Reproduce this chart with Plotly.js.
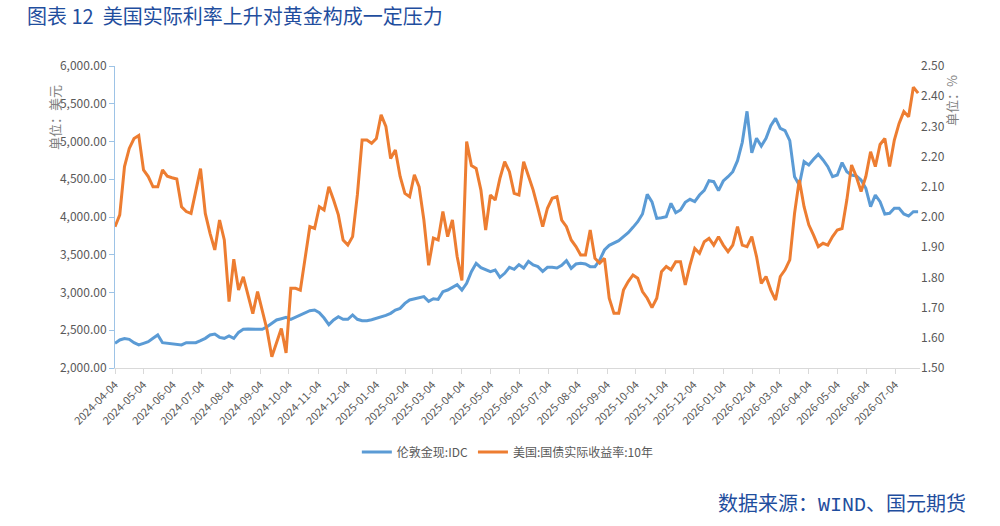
<!DOCTYPE html>
<html>
<head>
<meta charset="utf-8">
<script src="https://cdn.plot.ly/plotly-3.0.1.min.js"></script>
<style>
  html, body { margin: 0; padding: 0; background: #ffffff; }
  #chart { width: 1000px; height: 526px; }
</style>
</head>
<body>
<div id="chart"></div>
<script>
const seriesStart = '2024-04-04';
const stepDays = 5;

// 伦敦金现:IDC (美元)
const goldSpot = [
  2327,2371,2389,2380,2336,2305,2327,2349,2393,2437,
  2335,2327,2318,2313,2305,2335,2335,2335,2362,2393,
  2437,2450,2406,2393,2424,2393,2472,2512,2516,2512,
  2508,2512,2547,2591,2636,2653,2671,2645,2671,2702,
  2728,2759,2768,2733,2662,2574,2636,2680,2645,2645,
  2702,2645,2627,2627,2640,2658,2675,2697,2724,2768,
  2790,2856,2901,2918,2931,2945,2883,2918,2909,3011,
  3033,3073,3104,3033,3121,3276,3386,3329,3307,3276,
  3298,3201,3254,3333,3307,3369,3324,3413,3364,3342,
  3280,3333,3333,3324,3360,3422,3320,3377,3386,3377,
  3342,3342,3430,3563,3625,3655,3686,3739,3792,3863,
  3938,4040,4300,4200,3982,3991,4004,4181,4057,4093,
  4194,4234,4203,4291,4353,4481,4468,4349,4477,4534,
  4600,4746,4989,5400,4850,5042,4940,5042,5210,5307,
  5174,5143,5011,4534,4424,4733,4689,4764,4830,4755,
  4667,4534,4556,4720,4600,4556,4543,4490,4380,4137,
  4291,4203,4040,4049,4115,4115,4040,4013,4071,4071
];

// 美国:国债实际收益率:10年 (%)
const realYield10y = [
  1.968,2.007,2.167,2.227,2.26,2.27,2.156,2.134,2.10,2.10,
  2.156,2.135,2.130,2.126,2.034,2.018,2.012,2.09,2.16,2.012,
  1.946,1.891,1.990,1.924,1.72,1.86,1.758,1.802,1.736,1.68,
  1.753,1.692,1.626,1.537,1.582,1.631,1.55,1.764,1.764,1.758,
  1.863,1.968,1.962,2.034,2.023,2.100,2.056,2.007,1.924,1.907,
  1.935,2.073,2.255,2.255,2.244,2.260,2.338,2.30,2.194,2.222,
  2.134,2.078,2.067,2.14,2.100,1.990,1.84,1.93,1.924,2.018,
  1.935,1.990,1.869,1.79,2.25,2.17,2.161,2.089,1.957,2.073,
  2.056,2.128,2.183,2.150,2.078,2.073,2.183,2.139,2.089,2.029,
  1.968,2.029,2.062,2.067,1.990,1.968,1.924,1.902,1.874,1.874,
  1.957,1.863,1.847,1.863,1.731,1.681,1.681,1.758,1.786,1.808,
  1.797,1.753,1.731,1.70,1.731,1.819,1.836,1.825,1.852,1.852,
  1.775,1.841,1.896,1.880,1.918,1.929,1.907,1.935,1.907,1.885,
  1.907,1.968,1.907,1.902,1.935,1.869,1.780,1.803,1.758,1.725,
  1.803,1.825,1.858,2.012,2.123,2.034,1.974,1.940,1.902,1.913,
  1.907,1.935,1.957,1.962,2.056,2.172,2.134,2.084,2.134,2.216,
  2.167,2.24,2.26,2.167,2.255,2.310,2.349,2.332,2.43,2.41
];

const xTickDates = [
  '2024-04-04','2024-05-04','2024-06-04','2024-07-04','2024-08-04','2024-09-04',
  '2024-10-04','2024-11-04','2024-12-04','2025-01-04','2025-02-04','2025-03-04',
  '2025-04-04','2025-05-04','2025-06-04','2025-07-04','2025-08-04','2025-09-04',
  '2025-10-04','2025-11-04','2025-12-04','2026-01-04','2026-02-04','2026-03-04',
  '2026-04-04','2026-05-04','2026-06-04','2026-07-04'
];
const xRange = ['2024-04-04', '2026-07-30'];

const seriesNames = ['伦敦金现:IDC', '美国:国债实际收益率:10年'];
const chartTitle = '图表 12  美国实际利率上升对黄金构成一定压力';
const leftUnit = '单位：美元';
const rightUnit = '单位：%';
const sourceText = '数据来源：<span style="font-family:\'Liberation Mono\', monospace">WIND</span>、国元期货';

// ---- Build dates ----
function buildDates(start, step, n) {
  const t0 = Date.parse(start + 'T00:00:00Z');
  const out = [];
  for (let i = 0; i < n; i++) {
    out.push(new Date(t0 + i * step * 86400000).toISOString().slice(0, 10));
  }
  return out;
}
const dates = buildDates(seriesStart, stepDays, goldSpot.length);

const CJK = '"Noto Sans CJK SC", "Noto Sans", sans-serif';
const grey = '#595959';
const titleBlue = '#1f4e9e';

const traces = [
  {
    x: dates, y: goldSpot, name: seriesNames[0], type: 'scatter', mode: 'lines',
    line: { color: '#5b9bd5', width: 3 }, yaxis: 'y'
  },
  {
    x: dates, y: realYield10y, name: seriesNames[1], type: 'scatter', mode: 'lines',
    line: { color: '#ed7d31', width: 3 }, yaxis: 'y2'
  }
];

const layout = {
  width: 1000, height: 526,
  margin: { l: 115, r: 80, t: 66, b: 158 },
  paper_bgcolor: '#ffffff', plot_bgcolor: '#ffffff',
  font: { family: CJK, size: 12, color: grey },
  title: {
    text: chartTitle,
    font: { family: CJK, size: 20, color: titleBlue },
    xref: 'container', yref: 'container',
    x: 0.027, xanchor: 'left', y: 0.968, yanchor: 'middle'
  },
  showlegend: true,
  legend: {
    orientation: 'h', x: 0.488, xanchor: 'center', y: -0.278, yanchor: 'middle',
    font: { family: CJK, size: 12, color: grey },
    itemwidth: 30, tracegroupgap: 0
  },
  xaxis: {
    type: 'date', range: xRange,
    tickmode: 'array', tickvals: xTickDates, ticktext: xTickDates,
    tickangle: -45, tickfont: { family: CJK, size: 11, color: grey },
    showgrid: false, zeroline: false,
    showline: true, linecolor: '#d9d9d9', linewidth: 1,
    ticks: 'outside', ticklen: 5, tickcolor: '#d9d9d9'
  },
  yaxis: {
    range: [2000, 6000], dtick: 500, tick0: 2000, tickformat: ',.2f',
    tickfont: { family: CJK, size: 12, color: grey },
    showgrid: false, zeroline: false,
    showline: true, linecolor: '#9dc3e6', linewidth: 1,
    ticks: 'outside', ticklen: 5, tickcolor: '#9dc3e6'
  },
  yaxis2: {
    overlaying: 'y', side: 'right',
    range: [1.5, 2.5], dtick: 0.1, tick0: 1.5, tickformat: '.2f',
    tickfont: { family: CJK, size: 12, color: grey },
    showgrid: false, zeroline: false, showline: false, ticks: ''
  },
  annotations: [
    {
      text: leftUnit, xref: 'paper', yref: 'paper', x: -0.075, y: 0.83,
      xanchor: 'center', yanchor: 'middle', textangle: -90, showarrow: false,
      font: { family: CJK, size: 13, color: '#7f7f7f' }
    },
    {
      text: rightUnit, xref: 'paper', yref: 'paper', x: 1.040, y: 0.885,
      xanchor: 'center', yanchor: 'middle', textangle: -90, showarrow: false,
      font: { family: CJK, size: 13, color: '#7f7f7f' }
    },
    {
      text: sourceText, xref: 'paper', yref: 'paper', x: 1.0596, y: -0.447,
      xanchor: 'right', yanchor: 'middle', showarrow: false,
      font: { family: CJK, size: 20, color: titleBlue }
    }
  ]
};

Plotly.newPlot('chart', traces, layout, { displayModeBar: false, staticPlot: true });
</script>
</body>
</html>
